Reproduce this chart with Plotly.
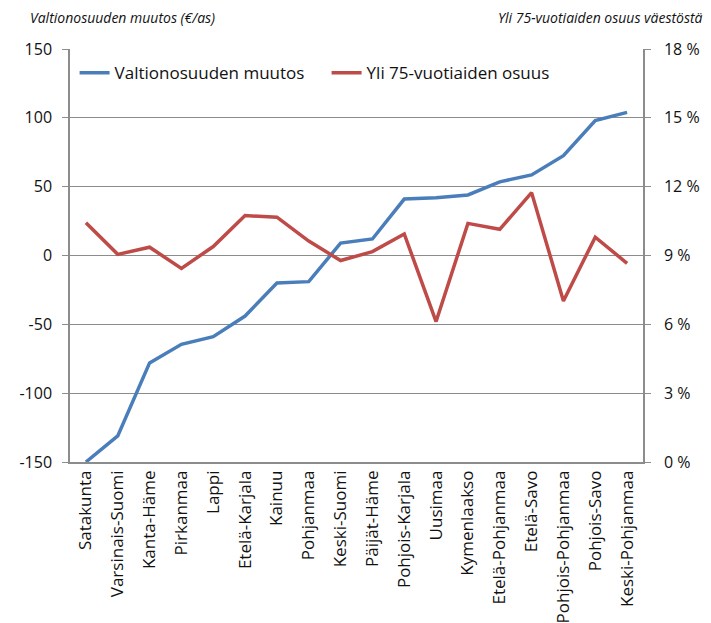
import plotly.graph_objects as go

categories = ["Satakunta", "Varsinais-Suomi", "Kanta-Häme", "Pirkanmaa", "Lappi",
              "Etelä-Karjala", "Kainuu", "Pohjanmaa", "Keski-Suomi", "Päijät-Häme",
              "Pohjois-Karjala", "Uusimaa", "Kymenlaakso", "Etelä-Pohjanmaa",
              "Etelä-Savo", "Pohjois-Pohjanmaa", "Pohjois-Savo", "Keski-Pohjanmaa"]
valtionosuus = [-150, -131, -78, -64.5, -59, -44, -20, -19, 9, 12,
                41, 42, 44, 53.5, 58.5, 72.5, 98, 104]
yli75 = [10.43, 9.05, 9.36, 8.44, 9.39, 10.74, 10.67, 9.63, 8.78, 9.17,
         9.94, 6.12, 10.4, 10.14, 11.74, 7.02, 9.8, 8.66]

left_ticks = [-150, -100, -50, 0, 50, 100, 150]
left_labels = [str(v) for v in left_ticks]
right_ticks = [0, 3, 6, 9, 12, 15, 18]
right_labels = [f"{v} %" for v in right_ticks]

FONT = "Open Sans"
GRID = "#8c8c8c"

fig = go.Figure()
fig.add_trace(go.Scatter(x=categories, y=valtionosuus, name="Valtionosuuden muutos",
                         mode="lines", line=dict(color="#4A7EBB", width=3.5), yaxis="y"))
fig.add_trace(go.Scatter(x=categories, y=yli75, name="Yli 75-vuotiaiden osuus",
                         mode="lines", line=dict(color="#BE4B48", width=3.5), yaxis="y2"))

fig.update_layout(
    width=703, height=615,
    margin=dict(l=62, r=68, t=41, b=161, autoexpand=False),
    paper_bgcolor="white", plot_bgcolor="white",
    font=dict(family=FONT, size=15, color="#111111"),
    showlegend=True,
    legend=dict(orientation="h", x=0.008, y=0.985, xanchor="left", yanchor="top",
                font=dict(size=17), bgcolor="rgba(0,0,0,0)", itemwidth=30,
                entrywidth=207, entrywidthmode="pixels", tracegroupgap=0),
    xaxis=dict(type="category", range=[-0.5, 17.5], tickangle=-90,
               showgrid=False, showline=True, linecolor=GRID, linewidth=1.5,
               ticks="", tickfont=dict(size=17), mirror=False, automargin=False),
    yaxis=dict(range=[-150, 150], tickvals=left_ticks, ticktext=left_labels,
               showgrid=True, gridcolor=GRID, gridwidth=1.2, showline=True,
               linecolor=GRID, linewidth=1.5, ticks="outside", ticklen=6,
               tickcolor=GRID, zeroline=False, tickfont=dict(size=16),
               ticklabelstandoff=7, automargin=False),
    yaxis2=dict(range=[0, 18], tickvals=right_ticks, ticktext=right_labels,
                overlaying="y", side="right", showgrid=False, showline=True,
                linecolor=GRID, linewidth=1.5, ticks="outside", ticklen=6,
                tickcolor=GRID, zeroline=False, tickfont=dict(size=16),
                ticklabelstandoff=10, automargin=False),
    annotations=[
        dict(text="<i>Valtionosuuden muutos (€/as)</i>", xref="paper", yref="paper",
             x=-42/573, y=1, yshift=32, xanchor="left", yanchor="middle",
             showarrow=False, font=dict(size=14)),
        dict(text="<i>Yli 75-vuotiaiden osuus väestöstä</i>", xref="paper", yref="paper",
             x=1 + 62/573, y=1, yshift=32, xanchor="right", yanchor="middle",
             showarrow=False, font=dict(size=14)),
    ],
)

fig.write_html("out.html")
